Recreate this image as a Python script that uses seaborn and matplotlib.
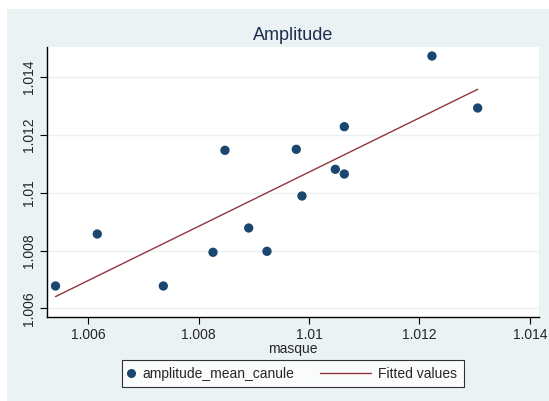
import matplotlib
matplotlib.use("Agg")
import matplotlib.pyplot as plt
import seaborn as sns
import numpy as np
import pandas as pd
from matplotlib.patches import Rectangle
from matplotlib.lines import Line2D
from matplotlib.legend_handler import HandlerBase

masque = [1.005406, 1.006163, 1.007359, 1.008259, 1.008476, 1.008906, 1.009237,
          1.009768, 1.009871, 1.010475, 1.010638, 1.010638, 1.012226, 1.013054]
amplitude_mean_canule = [1.006772, 1.008571, 1.006772, 1.007938, 1.011467, 1.008779, 1.007972,
                         1.011502, 1.009886, 1.010810, 1.010647, 1.012284, 1.014730, 1.012931]
xticks = [1.006, 1.008, 1.010, 1.012, 1.014]
xticklabels = ["1.006", "1.008", "1.01", "1.012", "1.014"]
yticks = [1.006, 1.008, 1.010, 1.012, 1.014]
yticklabels = ["1.006", "1.008", "1.01", "1.012", "1.014"]

df = pd.DataFrame({"masque": masque, "amplitude_mean_canule": amplitude_mean_canule})

sns.set_style("white")
plt.rcParams['font.family'] = ['Liberation Sans', 'DejaVu Sans']

BG = "#eaf2f3"
NAVY = "#1a476f"
MAROON = "#90353b"

fig = plt.figure(figsize=(5.49, 4.01), dpi=100)
fig.patch.set_facecolor("white")
fig.patches.append(Rectangle((7 / 549, 0), 1 - 7 / 549, 1 - 9 / 401,
                             transform=fig.transFigure, facecolor=BG,
                             edgecolor="none", zorder=-10))

ax = fig.add_axes([47 / 549, 1 - 317 / 401, (539 - 47) / 549, (317 - 47) / 401])
ax.set_facecolor("white")

sns.regplot(data=df, x="masque", y="amplitude_mean_canule", ax=ax, ci=None,
            scatter=False, line_kws=dict(color=MAROON, lw=1.0, zorder=2))
sns.scatterplot(data=df, x="masque", y="amplitude_mean_canule", ax=ax,
                color=NAVY, s=45, edgecolor="none", zorder=3)

ax.set_xlim(1.005252, 1.014165)
ax.set_ylim(1.005699, 1.015042)
ax.set_xticks(xticks)
ax.set_xticklabels(xticklabels, fontsize=10)
ax.set_yticks(yticks)
ax.set_yticklabels(yticklabels, fontsize=10, rotation=90, va="center")
ax.tick_params(axis="both", direction="out", length=5, width=0.8, color="black",
               left=True, bottom=True, pad=3)
ax.yaxis.grid(True, color=BG, lw=1.0)
ax.set_axisbelow(True)
for s in ["top", "right"]:
    ax.spines[s].set_visible(False)
for s in ["left", "bottom"]:
    ax.spines[s].set_color("black")
    ax.spines[s].set_linewidth(1.0)

ax.set_xlabel("masque", fontsize=10, labelpad=0)
ax.set_ylabel("")
ax.set_title("Amplitude", fontsize=13, color="#1e2d4f", pad=5)


class MarkerHandler(HandlerBase):
    def create_artists(self, legend, orig_handle, xdescent, ydescent, width,
                       height, fontsize, trans):
        ln = Line2D([width / 2 - xdescent], [height / 2 - ydescent], marker="o",
                    color="none", markerfacecolor=NAVY, markeredgecolor="none",
                    markersize=6.5)
        ln.set_transform(trans)
        return [ln]


class LongLineHandler(HandlerBase):
    def create_artists(self, legend, orig_handle, xdescent, ydescent, width,
                       height, fontsize, trans):
        y = height / 2 - ydescent
        ln = Line2D([-xdescent - 32.0, -xdescent + 4.6], [y, y], color=MAROON, lw=1.0)
        ln.set_transform(trans)
        return [ln]


h_marker = Line2D([0], [0], marker="o", color="none")
h_line = Line2D([0], [0], color=MAROON)
leg = fig.legend([h_marker, h_line], ["amplitude_mean_canule", "Fitted values"], ncol=2,
                 loc="center", bbox_to_anchor=(293 / 549, 1 - 373.7 / 401),
                 fontsize=10, frameon=True, fancybox=False, handlelength=0.35,
                 columnspacing=5.0, borderpad=0.45, handletextpad=0.68,
                 handler_map={h_marker: MarkerHandler(), h_line: LongLineHandler()})
leg.get_frame().set_edgecolor("black")
leg.get_frame().set_facecolor("white")
leg.get_frame().set_linewidth(0.8)

fig.savefig("out.png", dpi=100)
